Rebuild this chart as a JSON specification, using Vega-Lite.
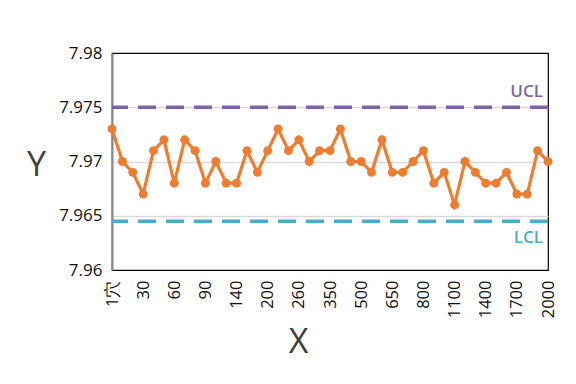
{
  "$schema": "https://vega.github.io/schema/vega-lite/v6.json",
  "width": 436,
  "height": 217,
  "autosize": {"type": "none"},
  "padding": {"left": 112, "top": 53, "right": 28, "bottom": 114},
  "background": "white",
  "config": {
    "view": {"stroke": "#000", "strokeWidth": 1.2},
    "font": "Open Sans"
  },
  "datasets": {
    "pts": [
      {"x": "1穴", "y": 7.973},
      {"x": "10", "y": 7.970},
      {"x": "20", "y": 7.969},
      {"x": "30", "y": 7.967},
      {"x": "40", "y": 7.971},
      {"x": "50", "y": 7.972},
      {"x": "60", "y": 7.968},
      {"x": "70", "y": 7.972},
      {"x": "80", "y": 7.971},
      {"x": "90", "y": 7.968},
      {"x": "100", "y": 7.970},
      {"x": "120", "y": 7.968},
      {"x": "140", "y": 7.968},
      {"x": "160", "y": 7.971},
      {"x": "180", "y": 7.969},
      {"x": "200", "y": 7.971},
      {"x": "220", "y": 7.973},
      {"x": "240", "y": 7.971},
      {"x": "260", "y": 7.972},
      {"x": "290", "y": 7.970},
      {"x": "320", "y": 7.971},
      {"x": "350", "y": 7.971},
      {"x": "400", "y": 7.973},
      {"x": "450", "y": 7.970},
      {"x": "500", "y": 7.970},
      {"x": "550", "y": 7.969},
      {"x": "600", "y": 7.972},
      {"x": "650", "y": 7.969},
      {"x": "700", "y": 7.969},
      {"x": "750", "y": 7.970},
      {"x": "800", "y": 7.971},
      {"x": "900", "y": 7.968},
      {"x": "1000", "y": 7.969},
      {"x": "1100", "y": 7.966},
      {"x": "1200", "y": 7.970},
      {"x": "1300", "y": 7.969},
      {"x": "1400", "y": 7.968},
      {"x": "1500", "y": 7.968},
      {"x": "1600", "y": 7.969},
      {"x": "1700", "y": 7.967},
      {"x": "1800", "y": 7.967},
      {"x": "1900", "y": 7.971},
      {"x": "2000", "y": 7.970}
    ],
    "limits": [
      {"name": "UCL", "value": 7.975, "labelY": 7.97643},
      {"name": "LCL", "value": 7.9645, "labelY": 7.96296}
    ]
  },
  "layer": [
    {
      "data": {"name": "pts"},
      "mark": {"type": "line", "color": "#ED7D31", "strokeWidth": 3.2, "point": {"filled": true, "size": 80, "color": "#ED7D31"}},
      "encoding": {
        "x": {
          "field": "x", "type": "ordinal", "sort": null,
          "scale": {"type": "point", "padding": 0},
          "axis": {
            "values": ["1穴", "30", "60", "90", "140", "200", "260", "350", "500", "650", "800", "1100", "1400", "1700", "2000"],
            "labelAngle": -90, "labelAlign": "right", "labelBaseline": "middle",
            "labelFontSize": 16.5, "labelColor": "#111", "labelPadding": 10,
            "ticks": false, "domain": false, "grid": false,
            "title": "X", "titleFontSize": 34, "titleFontWeight": "normal", "titleColor": "#404040",
            "titleX": 186, "titleY": 72, "titleBaseline": "middle", "titleAlign": "center"
          }
        },
        "y": {
          "field": "y", "type": "quantitative",
          "scale": {"domain": [7.96, 7.98]},
          "axis": {
            "values": [7.96, 7.965, 7.97, 7.975, 7.98],
            "format": "~g",
            "labelFontSize": 17, "labelColor": "#111", "labelPadding": 10,
            "ticks": false, "domainColor": "#888", "domainWidth": 2,
            "gridColor": {"condition": {"test": "datum.value < 7.962 || datum.value > 7.978", "value": "#000"}, "value": "#d9d9d9"},
            "gridWidth": {"condition": {"test": "datum.value < 7.962 || datum.value > 7.978", "value": 1.2}, "value": 1.5},
            "title": "Y", "titleAngle": 0, "titleFontSize": 34, "titleFontWeight": "normal", "titleColor": "#404040",
            "titleX": -76, "titleY": 112, "titleAlign": "center", "titleBaseline": "middle"
          }
        }
      }
    },
    {
      "data": {"name": "limits"},
      "mark": {"type": "rule", "strokeWidth": 3.5, "strokeDash": [18, 10]},
      "encoding": {
        "y": {"field": "value", "type": "quantitative"},
        "color": {"field": "name", "type": "nominal", "scale": {"domain": ["UCL", "LCL"], "range": ["#8064A2", "#4BACC6"]}, "legend": null}
      }
    },
    {
      "data": {"name": "limits"},
      "mark": {"type": "text", "align": "right", "baseline": "middle", "dx": -5, "fontSize": 17, "fontWeight": 600},
      "encoding": {
        "x": {"datum": "2000", "type": "ordinal"},
        "y": {"field": "labelY", "type": "quantitative"},
        "text": {"field": "name"},
        "color": {"field": "name", "type": "nominal", "legend": null}
      }
    }
  ]
}
